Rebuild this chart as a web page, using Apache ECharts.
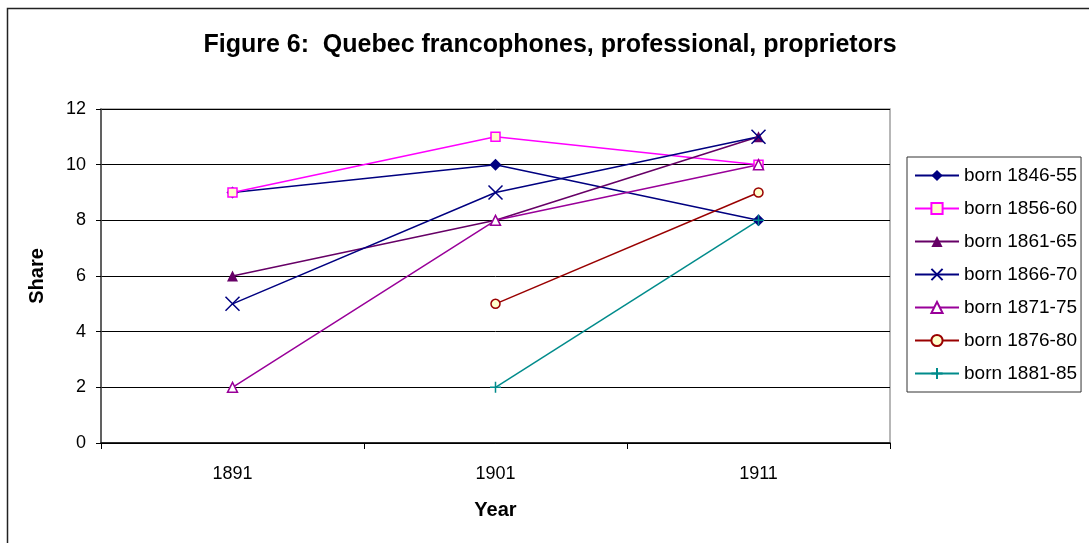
<!DOCTYPE html>
<html>
<head>
<meta charset="utf-8">
<script src="https://cdn.jsdelivr.net/npm/echarts@6/dist/echarts.min.js"></script>
<style>
  html, body { margin: 0; padding: 0; background: #fff; }
  #chart { width: 1089px; height: 543px; }
</style>
</head>
<body>
<div id="chart"></div>
<script>
// values
var years = ['1891', '1901', '1911'];
var born1846 = [9, 10, 8];
var born1856 = [9, 11, 10];
var born1861 = [6, 8, 11];
var born1866 = [5, 9, 11];
var born1871 = [2, 8, 10];
var born1876 = ['-', 5, 9];
var born1881 = ['-', 2, 8];

var CROSS = 'path://M0,0L10,10M10,0L0,10';
var PLUS = 'path://M5,0L5,10M0,5L10,5';

function line(name, data, color, symbol, size, fill, strokeW) {
    return {
        name: name,
        type: 'line',
        data: data,
        symbol: symbol,
        symbolSize: size,
        showAllSymbol: true,
        lineStyle: { color: color, width: 1.5 },
        itemStyle: { color: fill, borderColor: color, borderWidth: strokeW },
        emphasis: { disabled: true }
    };
}

var chart = echarts.init(document.getElementById('chart'), null, { renderer: 'canvas' });
chart.setOption({
    animation: false,
    backgroundColor: '#fff',
    textStyle: { fontFamily: 'Liberation Sans, Arial, sans-serif', color: '#000' },
    graphic: [{
        type: 'rect',
        left: 5, top: 6,
        shape: { width: 1100, height: 560 },
        style: { fill: 'none', stroke: '#222', lineWidth: 1.5 },
        silent: true
    }],
    title: {
        text: 'Figure 6:  Quebec francophones, professional, proprietors',
        left: 545, textAlign: 'center',
        top: 28,
        textStyle: { fontSize: 25, fontWeight: 'bold', color: '#000' }
    },
    grid: {
        left: 101, top: 109, right: 199, bottom: 100,
        show: true, borderColor: '#a0a0a0', borderWidth: 1.5, backgroundColor: '#fff'
    },
    legend: {
        orient: 'vertical',
        left: 907, top: 157,
        width: 176,
        padding: [9, 4, 9, 7],
        borderColor: '#333', borderWidth: 1,
        itemWidth: 44, itemHeight: 14, itemGap: 14,
        textStyle: { fontSize: 19, color: '#000' },
        data: ['born 1846-55', 'born 1856-60', 'born 1861-65', 'born 1866-70',
               'born 1871-75', 'born 1876-80', 'born 1881-85']
    },
    xAxis: {
        type: 'category',
        data: years,
        boundaryGap: true,
        name: 'Year',
        nameLocation: 'middle',
        nameGap: 57,
        nameTextStyle: { fontSize: 20, fontWeight: 'bold', color: '#000' },
        axisLine: { lineStyle: { color: '#000', width: 1.5 } },
        axisTick: { show: true, length: 6, lineStyle: { color: '#000' } },
        axisLabel: { fontSize: 18, color: '#000', margin: 22 },
        splitLine: { show: false }
    },
    yAxis: {
        type: 'value',
        min: 0, max: 12, interval: 2,
        name: 'Share',
        nameLocation: 'middle',
        nameGap: 54,
        nameTextStyle: { fontSize: 20, fontWeight: 'bold', color: '#000' },
        axisLine: { show: true, lineStyle: { color: '#444', width: 1.5 } },
        axisTick: { show: true, length: 5, lineStyle: { color: '#000' } },
        axisLabel: { fontSize: 18, color: '#000', margin: 15 },
        splitLine: { show: true, lineStyle: { color: '#000', width: 1 } }
    },
    series: [
        line('born 1846-55', born1846, '#000080', 'diamond', 12, '#000080', 0),
        line('born 1856-60', born1856, '#ff00ff', 'rect', 9, '#ffffcc', 1.5),
        line('born 1861-65', born1861, '#660066', 'triangle', 11, '#660066', 0),
        line('born 1866-70', born1866, '#000080', CROSS, 14, 'none', 1.5),
        line('born 1871-75', born1871, '#990099', 'triangle', 10, '#ffffff', 1.5),
        line('born 1876-80', born1876, '#990000', 'circle', 9, '#ffffcc', 1.5),
        line('born 1881-85', born1881, '#008b8b', PLUS, 11, 'none', 1.5)
    ]
});
</script>
</body>
</html>
